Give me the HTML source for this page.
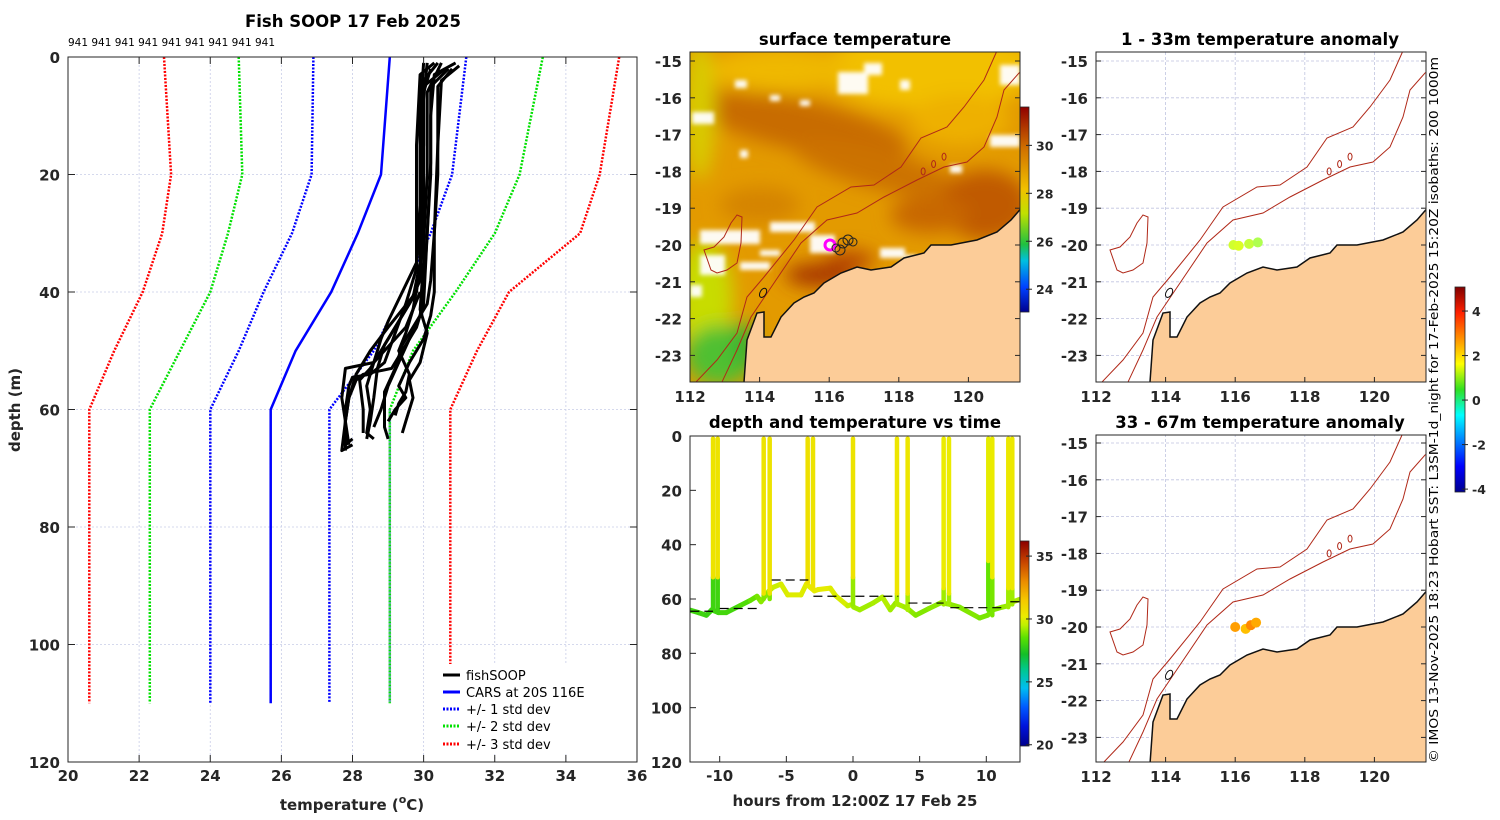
<!DOCTYPE html>
<html><head><meta charset="utf-8"><style>
html,body{margin:0;padding:0;background:#fff;}
svg{display:block;font-family:"DejaVu Sans","Liberation Sans",sans-serif;}
.tk{font-size:15px;font-weight:bold;fill:#262626;}
.ttl{font-size:16.5px;font-weight:bold;fill:#000;}
.cb{font-size:12.5px;font-weight:bold;fill:#262626;}
</style></head><body>
<svg id="fig" width="1500" height="820" viewBox="0 0 1500 820" xmlns="http://www.w3.org/2000/svg">
<defs>
<linearGradient id="jet" x1="0" y1="1" x2="0" y2="0">
<stop offset="0" stop-color="#00008f"/><stop offset="0.125" stop-color="#0000ff"/><stop offset="0.375" stop-color="#00ffff"/><stop offset="0.5" stop-color="#30e020"/><stop offset="0.625" stop-color="#ffff00"/><stop offset="0.875" stop-color="#ff2000"/><stop offset="1" stop-color="#800000"/>
</linearGradient>
<linearGradient id="tcm" x1="0" y1="1" x2="0" y2="0"></linearGradient>
<linearGradient id="sstcb" x1="0" y1="1" x2="0" y2="0">
<stop offset="0" stop-color="#00008f"/><stop offset="0.12" stop-color="#0040ff"/><stop offset="0.25" stop-color="#00c0e0"/><stop offset="0.33" stop-color="#20c040"/><stop offset="0.48" stop-color="#c0e000"/><stop offset="0.6" stop-color="#f0c000"/><stop offset="0.8" stop-color="#d07000"/><stop offset="1" stop-color="#900000"/>
</linearGradient>
<filter id="blur8"><feGaussianBlur stdDeviation="9"/></filter>
<filter id="blur3"><feGaussianBlur stdDeviation="2"/></filter>
<clipPath id="clip2"><rect x="690" y="52" width="330" height="330"/></clipPath>
<clipPath id="clip4"><rect x="1096" y="52" width="330" height="330"/></clipPath>
<clipPath id="clip5"><rect x="1096" y="435" width="330" height="327"/></clipPath>
<clipPath id="clip3"><rect x="690" y="436" width="330" height="326"/></clipPath>
</defs>

<!-- Panel 1 -->
<g id="p1">
<text class="ttl" x="353" y="27" text-anchor="middle">Fish SOOP 17 Feb 2025</text>
<text x="68" y="46" font-size="10.5" fill="#000" textLength="207">941 941 941 941 941 941 941 941 941</text>
<g id="p1grid"></g>
<g id="p1lines"></g>
<rect x="68" y="57" width="569" height="705" fill="none" stroke="#262626" stroke-width="1"/>
<g id="p1ticks"></g>
<text class="tk" x="352" y="810" text-anchor="middle" font-size="16">temperature (<tspan font-size="11" dy="-7">o</tspan><tspan dy="7">C)</tspan></text>
<text class="tk" transform="translate(20,410) rotate(-90)" text-anchor="middle" font-size="16">depth (m)</text>
<g id="legend">
<rect x="440" y="664" width="150" height="90" fill="#fff"/>
<g><line x1="443" y1="675" x2="460" y2="675" stroke="#000" stroke-width="3"/><text x="466" y="680" font-size="13">fishSOOP</text></g>
<g><line x1="443" y1="692" x2="460" y2="692" stroke="#0000ff" stroke-width="3"/><text x="466" y="697" font-size="13">CARS at 20S 116E</text></g>
<g><line x1="443" y1="709" x2="460" y2="709" stroke="#0000ff" stroke-width="3" stroke-dasharray="2,1.5"/><text x="466" y="714" font-size="13">+/- 1 std dev</text></g>
<g><line x1="443" y1="726" x2="460" y2="726" stroke="#00e000" stroke-width="3" stroke-dasharray="2,1.5"/><text x="466" y="731" font-size="13">+/- 2 std dev</text></g>
<g><line x1="443" y1="744" x2="460" y2="744" stroke="#ff0000" stroke-width="3" stroke-dasharray="2,1.5"/><text x="466" y="749" font-size="13">+/- 3 std dev</text></g>
</g>
</g>

<!-- Panel 2 -->
<g id="p2">
<text class="ttl" x="855" y="45" text-anchor="middle">surface temperature</text>
<g clip-path="url(#clip2)">
<rect x="690" y="52" width="330" height="330" fill="#e39a00"/>
<g filter="url(#blur8)">
<ellipse cx="930" cy="70" rx="110" ry="40" fill="#f2c000"/>
<ellipse cx="780" cy="70" rx="70" ry="22" fill="#efb800"/>
<ellipse cx="800" cy="125" rx="110" ry="25" fill="#c86c00" transform="rotate(12 800 125)"/>
<ellipse cx="880" cy="170" rx="90" ry="20" fill="#cc7200" transform="rotate(15 880 170)"/>
<ellipse cx="985" cy="205" rx="45" ry="35" fill="#c05a00"/>
<ellipse cx="930" cy="215" rx="40" ry="18" fill="#c86800"/>
<ellipse cx="960" cy="120" rx="50" ry="25" fill="#eeb000"/>
<ellipse cx="700" cy="110" rx="15" ry="70" fill="#d8cc00"/>
<ellipse cx="705" cy="300" rx="28" ry="60" fill="#c8dc00"/>
<ellipse cx="720" cy="355" rx="35" ry="30" fill="#50c030"/>
<ellipse cx="745" cy="345" rx="10" ry="25" fill="#30b030"/>
<ellipse cx="820" cy="275" rx="35" ry="12" fill="#a83800"/>
<ellipse cx="850" cy="260" rx="25" ry="10" fill="#b84a00"/>
<ellipse cx="760" cy="205" rx="40" ry="18" fill="#d58400"/>
</g>
<g fill="#fff" filter="url(#blur3)" opacity="0.95">
<rect x="838" y="72" width="30" height="22"/><rect x="864" y="63" width="18" height="12"/>
<rect x="692" y="112" width="22" height="12"/><rect x="740" y="150" width="8" height="8"/>
<rect x="770" y="95" width="10" height="6"/><rect x="800" y="100" width="10" height="6"/>
<rect x="1000" y="65" width="20" height="20"/><rect x="990" y="135" width="30" height="12"/>
<rect x="900" y="80" width="10" height="10"/><rect x="950" y="165" width="12" height="8"/>
<rect x="700" y="230" width="60" height="14"/><rect x="770" y="222" width="45" height="10"/>
<rect x="810" y="235" width="25" height="18"/><rect x="700" y="255" width="25" height="20"/>
<rect x="880" y="248" width="25" height="10"/><rect x="740" y="262" width="30" height="8"/>
<rect x="905" y="255" width="12" height="8"/><rect x="760" y="250" width="20" height="6"/>
<rect x="735" y="80" width="12" height="8"/><rect x="690" y="285" width="12" height="12"/>
<rect x="1005" y="350" width="15" height="30"/>
</g>
<g id="sstCoast"></g>
<circle cx="830" cy="245" r="5" fill="none" stroke="#ff00ff" stroke-width="3"/>
<g fill="none" stroke="#222" stroke-width="1">
<circle cx="843" cy="243" r="5"/><circle cx="848" cy="240" r="5"/><circle cx="836" cy="248" r="4"/><circle cx="840" cy="250" r="5"/><circle cx="853" cy="242" r="4"/>
</g>
</g>
<rect x="690" y="52" width="330" height="330" fill="none" stroke="#262626"/>
<g id="p2ticks"></g>
<rect x="1020" y="107" width="9" height="205" fill="url(#sstcb)" stroke="#262626" stroke-width="0.8"/>
<g id="p2cb"></g>
</g>

<!-- Panel 3 -->
<g id="p3">
<text class="ttl" x="855" y="428" text-anchor="middle">depth and temperature vs time</text>
<g clip-path="url(#clip3)"><g id="p3marks"></g></g>
<rect x="690" y="436" width="330" height="326" fill="none" stroke="#262626"/>
<g id="p3ticks"></g>
<text class="tk" x="855" y="806" text-anchor="middle" font-size="16">hours from 12:00Z 17 Feb 25</text>
<rect x="1020" y="541" width="9" height="205" fill="url(#tcm)" stroke="#262626" stroke-width="0.8"/>
<g id="p3cb"></g>
</g>

<!-- Panels 4,5 -->
<g id="p4">
<text class="ttl" x="1260" y="45" text-anchor="middle">1 - 33m temperature anomaly</text>
<g clip-path="url(#clip4)" id="map4"></g>
<rect x="1096" y="52" width="330" height="330" fill="none" stroke="#262626"/>
<g id="p4ticks"></g>
</g>
<g id="p5">
<text class="ttl" x="1260" y="428" text-anchor="middle">33 - 67m temperature anomaly</text>
<g clip-path="url(#clip5)" id="map5"></g>
<rect x="1096" y="435" width="330" height="327" fill="none" stroke="#262626"/>
<g id="p5ticks"></g>
</g>
<rect x="1455" y="287" width="10" height="205" fill="url(#jet)" stroke="#262626" stroke-width="0.8"/>
<g id="p5cb"></g>
<text transform="translate(1438,410) rotate(-90)" text-anchor="middle" font-size="12" fill="#000" textLength="706" lengthAdjust="spacingAndGlyphs">© IMOS 13-Nov-2025 18:23 Hobart SST: L3SM-1d_night for 17-Feb-2025 15:20Z isobaths: 200  1000m</text>
</svg>

<script>
// ---------- Panel 1 data ----------
const tempTicks = [20,22,24,26,28,30,32,34,36];
const depthTicks = [0,20,40,60,80,100,120];
const carsDepth = [0,20,30,40,50,60,110];
const carsMean = [29.05,28.8,28.15,27.4,26.4,25.7,25.7];
const std1Low = [26.9,26.85,26.3,25.5,24.8,24.0,24.0];
const std1High = [31.2,30.8,30.2,29.4,28.6,27.35,27.35];
const std2Low = [24.8,24.9,24.5,24.0,23.15,22.3,22.3];
const std2High = [33.35,32.7,32.0,30.9,29.7,29.05,29.05];
const std3Low = [22.7,22.9,22.65,22.1,21.3,20.6,20.6];
const std3High = [35.5,34.95,34.4,32.4,31.5,30.75,30.75];
const profT1 = [30.9,30.3,30.2,30.2,30.1,30.0,29.9,29.6,29.3,29.0,28.8,28.6];
const profD1 = [1,3,10,20,30,40,44,48,52,56,60,63];
const profT2 = [30.6,30.0,30.0,29.9,29.9,29.8,29.4,29.0,28.5,28.1,27.9,27.8,27.8,28.0];
const profD2 = [2,5,15,25,35,40,43,46,50,54,58,62,66,65];
const profT3 = [30.3,29.9,29.8,29.8,29.8,29.5,29.2,28.9,28.5,28.0,27.9,27.8,27.8];
const profD3 = [1,3,15,28,36,42,47,52,54,54.5,56,60,67];
const profT4 = [30.8,30.4,30.4,30.3,30.3,30.2,30.0,29.6,29.3,29.5,29.2,29.0];
const profD4 = [2,5,20,30,40,44,48,52,56,58,60,62];
const profT5 = [30.0,29.9,29.9,29.8,29.4,29.0,28.8,28.6,28.4,28.5,28.4,28.6];
const profD5 = [1,10,25,35,40,45,48,52,56,60,64,65];
const profT6 = [31.0,30.5,30.4,30.3,30.2,30.1,29.7,29.4,29.2,28.9,28.9,29.0];
const profD6 = [1.5,4,15,30,38,42,46,49,53,57,63,65];
const profT7 = [30.5,30.1,30.1,30.0,29.7,29.3,28.9,28.7,28.6,28.5,28.4];
const profD7 = [1,6,20,32,41,45,49,53,58,62,65];
const profT8 = [30.2,29.9,29.9,29.9,29.7,29.5,29.3,29.6,29.5,29.3,29.2];
const profD8 = [2,8,22,36,43,47,50,54,57,59,61];
const profT9 = [30.7,30.2,30.2,30.1,30.0,29.8,29.4,29.1,28.3,28.1,27.9,27.8,27.9];
const profD9 = [2,5,18,30,42,46,50,53,54,55,58,62,66];
const profT10 = [30.4,30.0,30.0,30.0,29.9,30.1,29.9,29.6,29.7,29.5,29.4];
const profD10 = [1,4,20,35,43,47,52,55,58,62,64];
const profT11 = [30.1,29.95,29.95,29.9,29.6,29.2,28.8,28.5,28.2,28.3,28.3];
const profD11 = [1,10,30,38,42,46,50,53,55,60,64];
const profT12 = [29.9,29.5,28.6,27.8,27.7,27.8,27.7,28.0];
const profD12 = [40,46,52,53,58,62,67,66];

// ---------- Panel 3 data ----------
const timeTicks = [-10,-5,0,5,10];
const dtDepthTicks = [0,20,40,60,80,100,120];
const botTime = [-12.3,-11.6,-11.0,-10.6,-10.1,-9.5,-8.5,-7.7,-7.2,-6.9,-6.3,-6.0,-5.4,-4.9,-3.9,-3.5,-2.9,-2.6,-1.7,-1.3,-0.4,-0.05,0.05,0.5,1.5,2.2,2.8,3.2,3.4,3.9,4.2,4.7,5.7,6.6,7.3,8.0,9.5,10.1,10.5,11.2,11.6,12.0,12.6];
const botDepth = [64,65,66,64,65,65,62.5,60.5,59,61,57,55.7,54.5,58.5,58.5,54.5,57,56.5,56,58.8,62.5,62,63,64,61.5,59.3,64,61.5,62,63,64,66,63.5,61.4,62,63,67,66,64,63,62.5,61,60];
const botTemp = [28.0,28.0,27.9,28.0,28.1,28.1,28.3,28.6,28.8,29.0,29.5,29.7,29.9,30.0,30.0,30.1,30.1,30.1,30.0,29.9,29.6,29.3,29.2,29.2,29.3,29.4,29.2,29.1,29.3,29.2,29.0,28.9,29.0,29.1,29.0,28.9,28.8,28.8,28.9,29.1,29.2,29.3,29.4];
const spikeTime = [-10.5,-10.15,-6.7,-6.25,-3.4,-3.0,0.0,3.3,4.1,6.8,7.2,10.15,10.45,11.65,11.95];
const spikeBottom = [64,65,60,60,54,56,62,62,64,62,62,64,66,63,62];
const spikeMixDepth = [52,52,58,58,54,56,52,58,58,56,58,46,52,56,56];
const spikeDeepTemp = [28.0,28.0,28.9,28.9,30.0,30.0,29.1,29.3,29.3,29.2,29.2,28.6,28.8,29.2,29.2];
const spikeSurfTemp = [30.5,30.5,30.5,30.5,30.6,30.5,30.5,30.4,30.4,30.2,30.2,30.1,30.2,30.3,30.3];
const layerStart = [-12.2,-10.0,-6.1,-2.97,4.16,7.3,11.8];
const layerEnd = [-10.5,-7.0,-3.35,3.4,6.8,11.18,13.0];
const layerDepth = [64.5,63.5,53,59,61.5,63.2,61];

// ---------- Map data ----------
const lonTicks = [112,114,116,118,120];
const latTicks = [-15,-16,-17,-18,-19,-20,-21,-22,-23];
const sstCbTicks = [30,28,26,24];
const dtCbTicks = [35,30,25,20];
const anomCbTicks = [4,2,0,-2,-4];
const anomLon1 = [115.95,116.1,116.4,116.65];
const anomLat1 = [-20.0,-20.02,-19.97,-19.93];
const anomVal1 = [1.2,1.3,1.1,0.9];
const anomLon2 = [116.0,116.3,116.45,116.6];
const anomLat2 = [-20.0,-20.05,-19.95,-19.88];
const anomVal2 = [2.5,2.2,2.7,2.4];

function refLL(p){return [112+(p[0]-1096)/34.8, -15-(p[1]-61)/36.8];}
const coastRef = [[1150,390],[1150,382],[1153,340],[1163,313],[1170,312],[1170,337],[1177,337],[1187,317],[1200,303],[1210,297],[1220,293],[1230,283],[1247,273],[1263,267],[1277,270],[1297,267],[1310,258],[1330,253],[1337,245],[1357,245],[1383,240],[1403,232],[1417,220],[1430,205],[1440,205],[1440,390]];
const iso1000Ref = [[1096,395],[1102,382],[1123,360],[1143,333],[1153,297],[1170,277],[1200,240],[1223,207],[1257,187],[1280,185],[1307,167],[1327,138],[1353,127],[1370,107],[1390,80],[1402,53],[1405,45]];
const iso200Ref = [[1124,395],[1128,382],[1143,350],[1157,317],[1180,283],[1207,243],[1233,220],[1263,213],[1290,197],[1323,180],[1350,167],[1373,162],[1390,147],[1403,117],[1410,90],[1425,73],[1430,70]];
const islandRef = [[1110,250],[1117,270],[1123,273],[1133,270],[1143,263],[1147,243],[1148,217],[1143,215],[1137,223],[1130,237],[1120,247]];
const coastLL = coastRef.map(refLL), iso1000LL = iso1000Ref.map(refLL), iso200LL = iso200Ref.map(refLL), islandLL = islandRef.map(refLL);

const NS='http://www.w3.org/2000/svg';
function mk(tag, attrs, parent){const e=document.createElementNS(NS,tag);for(const k in attrs)e.setAttribute(k,attrs[k]);parent.appendChild(e);return e;}
function $(id){return document.getElementById(id);}
function jet(v){const c=x=>Math.round(255*Math.max(0,Math.min(1,x)));return `rgb(${c(1.5-Math.abs(4*v-3))},${c(1.5-Math.abs(4*v-2))},${c(1.5-Math.abs(4*v-1))})`;}
// temperature colormap (panel 3)
const cmT=[19.9,21.5,23,24.5,26,27.2,28.5,29.5,30.2,31.5,33,34.5,36.2];
const cmC=[[0,0,140],[0,20,220],[0,90,255],[0,190,240],[0,200,140],[20,190,40],[90,225,0],[190,240,0],[235,235,0],[245,200,0],[235,140,0],[200,70,0],[140,0,0]];
function tcol(t){
  if(t<=cmT[0])return `rgb(${cmC[0]})`;
  for(let i=1;i<cmT.length;i++){if(t<=cmT[i]){const f=(t-cmT[i-1])/(cmT[i]-cmT[i-1]);const a=cmC[i-1],b=cmC[i];return `rgb(${a.map((v,k)=>Math.round(v+f*(b[k]-v))).join(',')})`;}}
  return `rgb(${cmC[cmC.length-1]})`;
}
cmT.forEach((t,i)=>mk('stop',{offset:(t-19.9)/(36.2-19.9),'stop-color':`rgb(${cmC[i]})`},$('tcm')));

// ---------- Panel 1 ----------
const X1 = t => 68 + (t-20)*(569/16);
const Y1 = d => 57 + d*(705/120);
tempTicks.forEach(t=>{
  if(t>20&&t<36){const g=mk('line',{x1:X1(t),y1:57,x2:X1(t),y2:762,stroke:'#c8cde8','stroke-width':0.8,'stroke-dasharray':'2,2'},$('p1grid'));
  
  }
  mk('line',{x1:X1(t),y1:762,x2:X1(t),y2:755,stroke:'#262626'},$('p1ticks'));
  mk('line',{x1:X1(t),y1:57,x2:X1(t),y2:64,stroke:'#262626'},$('p1ticks'));
  const l=mk('text',{x:X1(t),y:781,'text-anchor':'middle',class:'tk'},$('p1ticks'));l.textContent=t;
  
  
});
depthTicks.forEach(d=>{
  if(d>0&&d<120){const g=mk('line',{x1:68,y1:Y1(d),x2:637,y2:Y1(d),stroke:'#c8cde8','stroke-width':0.8,'stroke-dasharray':'2,2'},$('p1grid'));
  
  }
  mk('line',{x1:68,y1:Y1(d),x2:75,y2:Y1(d),stroke:'#262626'},$('p1ticks'));
  mk('line',{x1:637,y1:Y1(d),x2:630,y2:Y1(d),stroke:'#262626'},$('p1ticks'));
  const l=mk('text',{x:60,y:Y1(d)+6,'text-anchor':'end',class:'tk'},$('p1ticks'));l.textContent=d;
  
  
});
function pathTD(T,D){return T.map((t,i)=>(i?'L':'M')+X1(t).toFixed(1)+','+Y1(D[i]).toFixed(1)).join('');}
const stdSeries=[[std3Low,'#ff0000','std3-low'],[std3High,'#ff0000','std3-high'],[std2Low,'#00e000','std2-low'],[std2High,'#00e000','std2-high'],[std1Low,'#0000ff','std1-low'],[std1High,'#0000ff','std1-high']];
stdSeries.forEach(s=>{
  const p=mk('path',{d:pathTD(s[0],carsDepth),fill:'none',stroke:s[1],'stroke-width':2.5,'stroke-dasharray':'2,1.5'},$('p1lines'));
  
  
});
const ov=mk('path',{d:pathTD(std2High.slice(5),carsDepth.slice(5)),fill:'none',stroke:'#60b0a0','stroke-width':2.5,'stroke-dasharray':'2,1.5'},$('p1lines'));


const cm=mk('path',{d:pathTD(carsMean,carsDepth),fill:'none',stroke:'#0000ff','stroke-width':2.5},$('p1lines'));


const profs=[[profT1,profD1],[profT2,profD2],[profT3,profD3],[profT4,profD4],[profT5,profD5],[profT6,profD6],[profT7,profD7],[profT8,profD8],[profT9,profD9],[profT10,profD10],[profT11,profD11],[profT12,profD12]];
profs.forEach(p=>{
  const e=mk('path',{d:pathTD(p[0],p[1]),fill:'none',stroke:'#000','stroke-width':3,'stroke-linejoin':'round'},$('p1lines'));
  
  
});

// ---------- Panel 3 ----------
const X3 = h => 853 + h*13.33;
const Y3 = d => 436 + d*(326/120);
const m3=$('p3marks');
for(let i=0;i<botTime.length-1;i++){
  const e=mk('line',{x1:X3(botTime[i]),y1:Y3(botDepth[i]),x2:X3(botTime[i+1]),y2:Y3(botDepth[i+1]),stroke:tcol(botTemp[i]),'stroke-width':5,'stroke-linecap':'round'},m3);
  
  
}
for(let i=0;i<spikeTime.length;i++){
  const x=X3(spikeTime[i]);
  const a=mk('line',{x1:x,y1:Y3(spikeBottom[i]),x2:x,y2:Y3(spikeMixDepth[i]),stroke:tcol(spikeDeepTemp[i]),'stroke-width':4.5,'stroke-linecap':'round'},m3);
  
  
  const b=mk('line',{x1:x,y1:Y3(spikeMixDepth[i]),x2:x,y2:Y3(1),stroke:tcol(spikeSurfTemp[i]),'stroke-width':4.5,'stroke-linecap':'round'},m3);
  
  
}
for(let i=0;i<layerStart.length;i++){
  const e=mk('line',{x1:X3(layerStart[i]),y1:Y3(layerDepth[i]),x2:X3(layerEnd[i]),y2:Y3(layerDepth[i]),stroke:'#000','stroke-width':1.2,'stroke-dasharray':'9,5'},m3);
  
  
}
timeTicks.forEach(h=>{
  mk('line',{x1:X3(h),y1:762,x2:X3(h),y2:756,stroke:'#262626'},$('p3ticks'));
  const l=mk('text',{x:X3(h),y:781,'text-anchor':'middle',class:'tk'},$('p3ticks'));l.textContent=h;
  
  
});
dtDepthTicks.forEach(d=>{
  mk('line',{x1:690,y1:Y3(d),x2:696,y2:Y3(d),stroke:'#262626'},$('p3ticks'));
  const l=mk('text',{x:682,y:Y3(d)+6,'text-anchor':'end',class:'tk'},$('p3ticks'));l.textContent=d;
  
  
});
function cbTicks(g,ticks,x,top,h,vmin,vmax){
  ticks.forEach(v=>{const y=top+h*(vmax-v)/(vmax-vmin);
    mk('line',{x1:x-3,y1:y,x2:x+3,y2:y,stroke:'#262626'},g);
    const l=mk('text',{x:x+7,y:y+5,class:'cb'},g);l.textContent=v;
    
    });
}
cbTicks($('p3cb'),dtCbTicks,1029,541,205,19.9,36.2);
cbTicks($('p2cb'),sstCbTicks,1029,107,205,23.05,31.6);
cbTicks($('p5cb'),anomCbTicks,1465,287,205,-4.13,5.08);

// ---------- Maps ----------
function proj(bx,by){return ll=>[bx+(ll[0]-112)*34.8, by+9+(-15-ll[1])*36.8];}
function poly(P,pts,close){return pts.map((q,i)=>{const p=P(q);return (i?'L':'M')+p[0].toFixed(1)+','+p[1].toFixed(1);}).join('')+(close?'Z':'');}
function drawMap(g,bx,by,h,grid){
  const P=proj(bx,by);
  if(grid){
    lonTicks.forEach(lo=>{const x=P([lo,0])[0];const e=mk('line',{x1:x,y1:by,x2:x,y2:by+h,stroke:'#c0c4e0','stroke-width':0.8,'stroke-dasharray':'3,2'},g);
      
      });
    latTicks.forEach(la=>{const y=P([112,la])[1];const e=mk('line',{x1:bx,y1:y,x2:bx+330,y2:y,stroke:'#c0c4e0','stroke-width':0.8,'stroke-dasharray':'3,2'},g);
      
      });
  }
  const land=mk('path',{d:poly(P,coastLL,true),fill:'#fccc98',stroke:'#111','stroke-width':1.5},g);
  
  
  const i1=mk('path',{d:poly(P,iso1000LL,false),fill:'none',stroke:'#b02818','stroke-width':1},g);
  
  
  const i2=mk('path',{d:poly(P,iso200LL,false),fill:'none',stroke:'#b02818','stroke-width':1},g);
  
  
  const is=mk('path',{d:poly(P,islandLL,true),fill:'none',stroke:'#b02818','stroke-width':1},g);
  
  
  [[119.3,-17.6],[119.0,-17.8],[118.7,-18.0]].forEach(c=>{const p=P(c);const e=mk('ellipse',{cx:p[0],cy:p[1],rx:2,ry:3.5,fill:'none',stroke:'#b02818'},g);
    
    });
  const sh=P([114.1,-21.3]);const s=mk('ellipse',{cx:sh[0],cy:sh[1],rx:3,ry:5,fill:'none',stroke:'#111',transform:`rotate(30 ${sh[0]} ${sh[1]})`},g);
  
  
  return P;
}
function axisTicks(g,bx,by,h){
  const P=proj(bx,by);
  lonTicks.forEach(lo=>{const x=P([lo,0])[0];
    mk('line',{x1:x,y1:by+h,x2:x,y2:by+h-5,stroke:'#262626'},g);
    const l=mk('text',{x:x,y:by+h+20,'text-anchor':'middle',class:'tk'},g);l.textContent=lo;
    
    });
  latTicks.forEach(la=>{const y=P([112,la])[1];
    mk('line',{x1:bx,y1:y,x2:bx+5,y2:y,stroke:'#262626'},g);
    mk('line',{x1:bx+330,y1:y,x2:bx+325,y2:y,stroke:'#262626'},g);
    const l=mk('text',{x:bx-8,y:y+6,'text-anchor':'end',class:'tk'},g);l.textContent=la;
    
    });
}
drawMap($('sstCoast'),690,52,330,false);
axisTicks($('p2ticks'),690,52,330);
const P4=drawMap($('map4'),1096,52,330,true);
axisTicks($('p4ticks'),1096,52,330);
const P5=drawMap($('map5'),1096,434,328,true);
axisTicks($('p5ticks'),1096,434,328);
const CA = v => jet((v+4.13)/9.21);
anomLon1.forEach((lo,i)=>{const p=P4([lo,anomLat1[i]]);const c=mk('circle',{cx:p[0],cy:p[1],r:5,fill:CA(anomVal1[i])},$('map4'));
  
  });
anomLon2.forEach((lo,i)=>{const p=P5([lo,anomLat2[i]]);const c=mk('circle',{cx:p[0],cy:p[1],r:5,fill:CA(anomVal2[i])},$('map5'));
  
  });
</script>
</body></html>
